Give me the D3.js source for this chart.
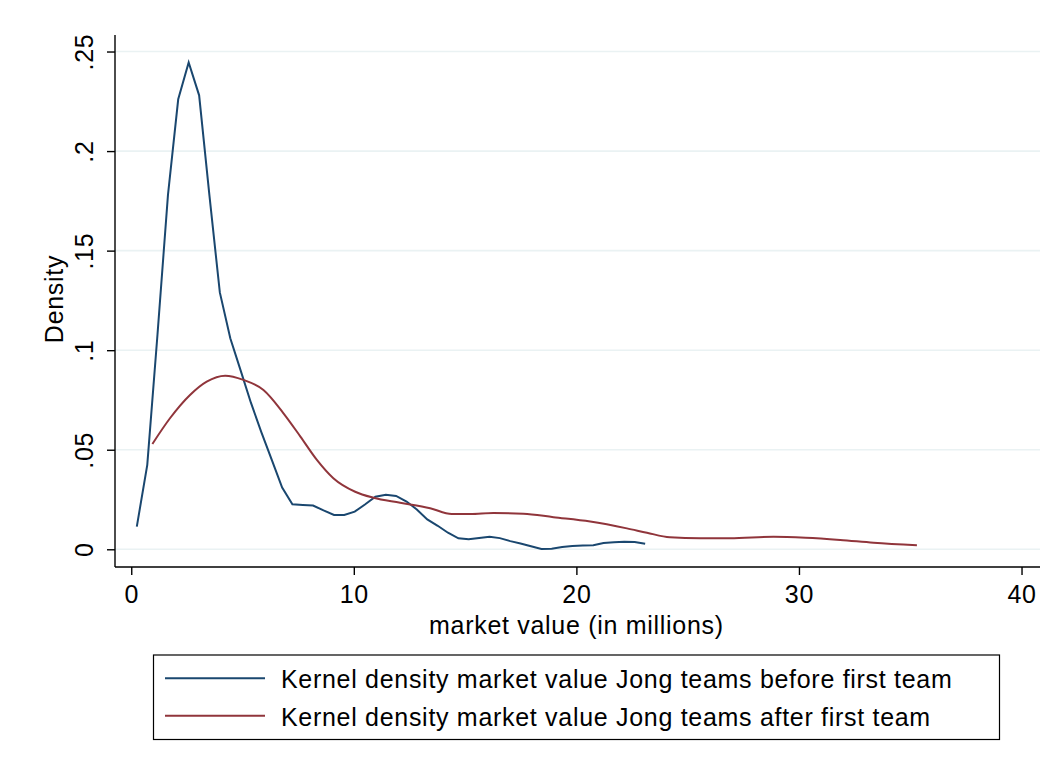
<!DOCTYPE html>
<html><head><meta charset="utf-8">
<script src="https://cdn.jsdelivr.net/npm/d3@7"></script>
<style>body{margin:0;background:#fff}svg{display:block}text{font-family:"Liberation Sans",Arial,sans-serif;fill:#000;letter-spacing:0.7px}</style>
</head><body><svg id="c" width="1048" height="770"></svg>
<script>
const beforeX = [0.25,0.72,1.18,1.65,2.11,2.58,3.05,3.51,3.98,4.45,4.91,5.38,5.84,6.31,6.78,7.24,7.71,8.17,8.64,9.11,9.57,10.04,10.5,10.97,11.44,11.9,12.37,12.83,13.3,13.77,14.23,14.7,15.16,15.63,16.1,16.56,17.03,17.49,17.96,18.43,18.89,19.36,19.82,20.29,20.76,21.22,21.69,22.15,22.62,23.09];
const beforeY = [0.0114,0.0424,0.108,0.178,0.226,0.2445,0.228,0.178,0.129,0.106,0.090,0.0735,0.059,0.045,0.031,0.0226,0.0223,0.0220,0.0195,0.0172,0.0172,0.0189,0.0225,0.0264,0.0274,0.0268,0.0240,0.0200,0.0150,0.0118,0.0083,0.0055,0.0050,0.0057,0.0063,0.0056,0.0041,0.0029,0.0015,0.0002,0.0003,0.0011,0.0017,0.0019,0.0020,0.0032,0.0035,0.0038,0.0037,0.0028];
const afterX = [0.95,1.74,2.64,3.39,4.22,5.04,5.94,6.84,7.6,8.34,9.08,10.06,10.88,12.08,13.43,14.4,15.23,16.27,17.62,18.97,20.62,22.27,23.17,24.2,25.57,26.9,28.86,30.3,31.85,33.35,35.3];
const afterY = [0.0529,0.0658,0.0775,0.0842,0.0872,0.0851,0.0800,0.0683,0.0566,0.0449,0.0357,0.0289,0.0259,0.0234,0.0206,0.0177,0.0177,0.0182,0.0179,0.0161,0.0139,0.0105,0.0083,0.0060,0.0055,0.0055,0.0063,0.0058,0.0047,0.0033,0.0020];
const xTicks = [0,10,20,30,40];
const yTicks = [0,0.05,0.1,0.15,0.2,0.25];
const yTickLabels = ["0",".05",".1",".15",".2",".25"];
const legendLabels = ["Kernel density market value Jong teams before first team","Kernel density market value Jong teams after first team"];
const colors = ["#1a476f","#90353b"];

const svg = d3.select("#c");
const L=115,R=1040,T=35,B=567;
const FS = "25px";
const x = d3.scaleLinear().domain([-0.73,40.83]).range([L,R]);
const y = d3.scaleLinear().domain([-0.0089,0.2583]).range([B,T]);

// gridlines
svg.append("g").selectAll("line").data(yTicks).join("line")
  .attr("x1",L).attr("x2",R).attr("y1",d=>y(d)).attr("y2",d=>y(d))
  .attr("stroke","#eaf2f3").attr("stroke-width",1.6);

const line = d3.line().x(d=>x(d[0])).y(d=>y(d[1]));
const series = [d3.zip(beforeX,beforeY), d3.zip(afterX,afterY)];
svg.append("path").attr("d",line(series[0])).attr("fill","none").attr("stroke",colors[0]).attr("stroke-width",2);
svg.append("path").attr("d",line.curve(d3.curveMonotoneX)(series[1])).attr("fill","none").attr("stroke",colors[1]).attr("stroke-width",2);

// axes
const xa = svg.append("g").attr("transform",`translate(0,${B})`)
  .call(d3.axisBottom(x).tickValues(xTicks).tickSize(8).tickFormat(d3.format("d")));
xa.select(".domain").attr("d",`M${L},0H${R}`).attr("stroke","#000").attr("stroke-width",1.4);
xa.selectAll(".tick line").attr("stroke","#000").attr("stroke-width",1.4);
xa.selectAll(".tick text").style("font-size",FS).attr("y",36).attr("dy",0);

const ya = svg.append("g").attr("transform",`translate(${L},0)`)
  .call(d3.axisLeft(y).tickValues(yTicks).tickSize(8).tickFormat((d,i)=>yTickLabels[i]));
ya.select(".domain").attr("d",`M0,${T}V${B}`).attr("stroke","#000").attr("stroke-width",1.4);
ya.selectAll(".tick line").attr("stroke","#000").attr("stroke-width",1.4);
ya.selectAll(".tick text").style("font-size",FS)
  .attr("x",0).attr("dy",0).attr("text-anchor","middle")
  .attr("transform","translate(-22,0) rotate(-90)");

svg.append("text").attr("x",(x(0)+x(40))/2).attr("y",634).attr("text-anchor","middle")
  .style("font-size",FS).text("market value (in millions)");
svg.append("text").attr("transform",`translate(63,${(T+B)/2-2}) rotate(-90)`).attr("text-anchor","middle")
  .style("font-size",FS).text("Density");

// legend
const lg = svg.append("g");
lg.append("rect").attr("x",153.5).attr("y",655).attr("width",846).attr("height",84.5)
  .attr("fill","#fff").attr("stroke","#000").attr("stroke-width",1.2);
legendLabels.forEach((t,i)=>{
  const yy = 678.3 + i*37.4;
  lg.append("line").attr("x1",165).attr("x2",265).attr("y1",yy).attr("y2",yy).attr("stroke",colors[i]).attr("stroke-width",2);
  lg.append("text").attr("x",281).attr("y",yy+10).style("font-size",FS).text(t);
});
</script></body></html>
